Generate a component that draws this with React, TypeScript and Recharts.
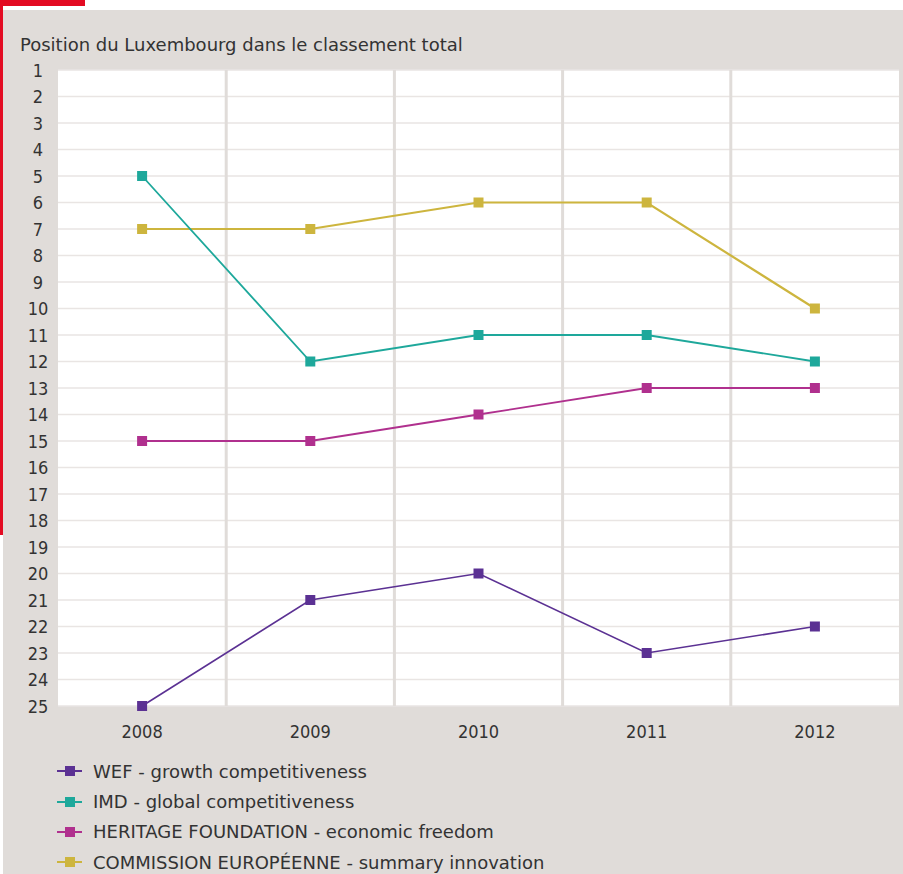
import React from "react";
import { LineChart, Line, XAxis, YAxis, CartesianGrid, ReferenceLine } from "recharts";

const years = [2008, 2009, 2010, 2011, 2012];
const wef = [25, 21, 20, 23, 22];
const imd = [5, 12, 11, 11, 12];
const heritage = [15, 15, 14, 13, 13];
const commission = [7, 7, 6, 6, 10];
const rankTicks = Array.from({ length: 25 }, (_, i) => i + 1);
const bandEdges = [2008.5, 2009.5, 2010.5, 2011.5];

const series = [
  { key: "wef", name: "WEF - growth competitiveness", color: "#5b3193", width: 1.6, values: wef },
  { key: "imd", name: "IMD - global competitiveness", color: "#1ea89b", width: 1.8, values: imd },
  { key: "heritage", name: "HERITAGE FOUNDATION - economic freedom", color: "#b0308e", width: 1.8, values: heritage },
  { key: "commission", name: "COMMISSION EUROPÉENNE - summary innovation", color: "#cdb53e", width: 2.2, values: commission },
];

const data = years.map((y, i) => {
  const row: any = { year: y };
  series.forEach((s) => (row[s.key] = s.values[i]));
  return row;
});

const FONT = "'DejaVu Sans', sans-serif";
const TICKFONT = "'DejaVu Sans Condensed', 'DejaVu Sans', sans-serif";
const BG = "#e0dcd9";
const TXT = "#333";

const SquareDot = (color: string) => (props: any) => {
  const { cx, cy, index } = props;
  if (cx == null || cy == null) return <g key={index} />;
  return <rect key={index} x={cx - 5} y={cy - 5} width={10} height={10} fill={color} />;
};

const YTick = (props: any) => {
  const { y, payload } = props;
  return (
    <text x={38} y={y} textAnchor="middle" dominantBaseline="central" fontSize={18} fill={TXT} fontFamily={TICKFONT}>
      {payload.value}
    </text>
  );
};

const LegendBlock = () => (
  <div style={{ position: "absolute", left: 0, top: 756, fontFamily: FONT, fontSize: 18, color: TXT }}>
    {series.map((s) => (
      <div key={s.key} style={{ display: "flex", alignItems: "center", height: 30.4, whiteSpace: "nowrap" }}>
        <svg width={36} height={12} style={{ marginLeft: 57, flex: "none" }}>
          <line x1={0} y1={6} x2={25} y2={6} stroke={s.color} strokeWidth={2} />
          <rect x={8} y={1} width={10} height={10} fill={s.color} />
        </svg>
        <span>{s.name}</span>
      </div>
    ))}
  </div>
);

export default function App() {
  return (
    <div style={{ position: "absolute", left: 0, top: 0, width: 903, height: 874, background: "#fff", overflow: "hidden" }}>
      <div style={{ position: "absolute", left: 0, top: 0, width: 85, height: 6, background: "#e30b22" }} />
      <div style={{ position: "absolute", left: 0, top: 0, width: 2.5, height: 535, background: "#e30b22" }} />
      <div style={{ position: "absolute", left: 3, top: 10, width: 900, height: 864, background: BG }} />
      <div
        style={{
          position: "absolute",
          left: 20,
          top: 34,
          fontFamily: FONT,
          fontSize: 18,
          color: TXT,
          whiteSpace: "nowrap",
        }}
      >
        Position du Luxembourg dans le classement total
      </div>
      <div style={{ position: "absolute", left: 0, top: 0 }}>
        <LineChart width={903} height={874} data={data} margin={{ top: 70, right: 4, bottom: 138, left: 18 }}>
          <CartesianGrid vertical={false} stroke="#e9e5e3" strokeWidth={1.5} fill="#ffffff" fillOpacity={1} />
          {bandEdges.map((x) => (
            <ReferenceLine key={x} x={x} stroke={BG} strokeWidth={3} />
          ))}
          <XAxis
            dataKey="year"
            type="number"
            domain={[2007.5, 2012.5]}
            ticks={years}
            axisLine={false}
            tickLine={false}
            height={30}
            tick={{ fontSize: 18, fill: TXT, fontFamily: TICKFONT }}
            tickMargin={13}
          />
          <YAxis
            type="number"
            domain={[1, 25]}
            reversed
            ticks={rankTicks}
            interval={0}
            width={40}
            axisLine={false}
            tickLine={false}
            tick={<YTick />}
          />
          {[...series].reverse().map((s) => (
            <Line
              key={s.key}
              dataKey={s.key}
              name={s.name}
              stroke={s.color}
              strokeWidth={s.width}
              dot={SquareDot(s.color)}
              activeDot={false}
              isAnimationActive={false}
            />
          ))}
        </LineChart>
      </div>
      <LegendBlock />
    </div>
  );
}
